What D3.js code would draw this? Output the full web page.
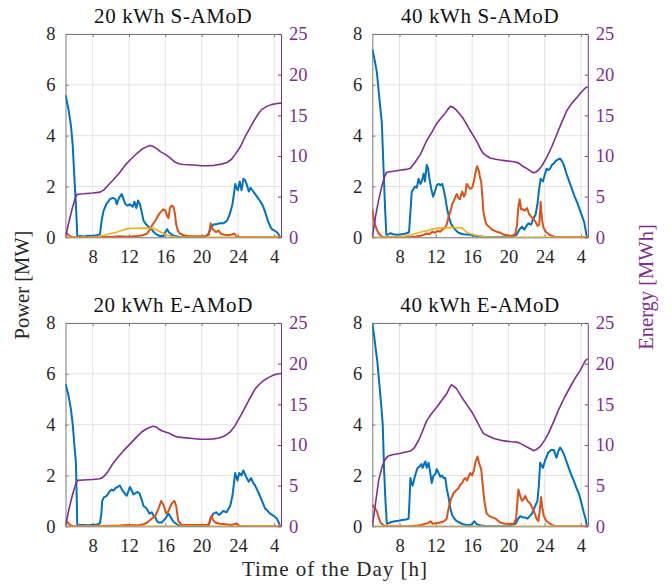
<!DOCTYPE html>
<html>
<head>
<meta charset="utf-8">
<script src="https://cdn.jsdelivr.net/npm/d3@7"></script>
<style>
  body { margin: 0; background: #fff; }
</style>
</head>
<body>
<svg id="chart" width="672" height="587"></svg>
<script>
// ---- data: time in hours (values past 24 are the next morning), power in MW, energy in MWh ----
const titles = ["20 kWh S-AMoD", "40 kWh S-AMoD", "20 kWh E-AMoD", "40 kWh E-AMoD"];
const timeDomain = [5, 28.75];
const xTicks = [8, 12, 16, 20, 24, 28];
const xTickLabels = ["8", "12", "16", "20", "24", "4"];
const powerTicks = [0, 2, 4, 6, 8];
const energyTicks = [0, 5, 10, 15, 20, 25];

const blue20S = [[5,5.6],[5.3,5.1],[5.6,4.4],[5.8,3.6],[6.0,2.2],[6.2,0.9],[6.3,0.02],[6.6,0.05],[7,0.03],[7.5,0.06],[8,0.05],[8.5,0.08],[8.8,0.12],[9.0,0.7],[9.2,1.05],[9.5,1.3],[9.9,1.5],[10.2,1.55],[10.5,1.5],[10.65,1.3],[10.9,1.55],[11.2,1.7],[11.4,1.5],[11.6,1.3],[11.8,1.25],[12.1,1.3],[12.4,1.2],[12.6,1.4],[12.8,1.15],[13.0,1.45],[13.2,1.3],[13.4,1.0],[13.6,0.65],[13.9,0.5],[14.2,0.4],[14.5,0.3],[14.8,0.18],[15.1,0.1],[15.4,0.05],[15.8,0.05],[16.0,0.2],[16.2,0.32],[16.4,0.2],[16.7,0.1],[17.0,0.05],[17.6,0.01],[18,0],[19.8,0],[20.3,0.03],[20.7,0.1],[21.0,0.35],[21.3,0.5],[21.7,0.52],[22.0,0.55],[22.4,0.55],[22.8,0.65],[23.1,0.9],[23.4,1.3],[23.6,1.8],[23.7,2.1],[23.9,1.9],[24.0,1.85],[24.2,2.2],[24.4,1.85],[24.6,2.3],[24.8,2.25],[25.0,2.05],[25.2,1.8],[25.4,1.95],[25.6,1.85],[25.9,1.7],[26.2,1.55],[26.5,1.4],[26.8,1.2],[27.0,1.0],[27.3,0.65],[27.6,0.4],[27.8,0.3],[28.1,0.25],[28.3,0.2],[28.5,0.1],[28.65,0]];
const orange20S = [[5,0.2],[5.3,0.1],[5.6,0.03],[5.8,0],[8,0],[9,0.02],[10,0.01],[11,0.04],[12,0.02],[12.5,0.04],[13,0.05],[13.5,0.08],[14,0.15],[14.3,0.3],[14.6,0.5],[14.9,0.65],[15.2,0.85],[15.5,1.0],[15.8,1.1],[16.0,1.05],[16.2,0.85],[16.35,0.75],[16.5,1.15],[16.7,1.25],[16.9,1.2],[17.05,0.95],[17.2,0.5],[17.4,0.25],[17.6,0.15],[18,0.08],[18.5,0.05],[19.5,0.04],[20.5,0.05],[20.8,0.1],[21.0,0.55],[21.1,0.35],[21.3,0.3],[21.6,0.2],[21.85,0.27],[22.1,0.15],[22.5,0.1],[23,0.08],[23.4,0.12],[23.6,0.15],[23.8,0.05],[24.2,0],[28.75,0]];
const yellow20S = [[5,0],[8,0],[8.5,0.02],[9,0.06],[9.5,0.1],[10,0.15],[10.6,0.2],[11.2,0.27],[11.75,0.33],[12.3,0.35],[13,0.35],[13.6,0.36],[14.2,0.35],[14.7,0.35],[15.0,0.3],[15.4,0.22],[15.8,0.15],[16.2,0.08],[16.6,0.04],[17.2,0.01],[17.6,0],[28.75,0]];
const energy20S = [[5,0],[5.4,2.0],[5.8,3.8],[6.1,4.9],[6.3,5.3],[7,5.35],[8,5.45],[8.8,5.55],[9.2,5.8],[9.7,6.4],[10.3,7.1],[11,8.0],[11.6,8.9],[12.2,9.6],[12.85,10.3],[13.5,10.9],[14.0,11.15],[14.3,11.3],[14.6,11.2],[15.05,10.9],[15.5,10.5],[16.0,10.2],[16.5,9.8],[17.0,9.3],[17.5,9.05],[18.0,8.95],[19.1,8.9],[20.0,8.8],[20.6,8.8],[21.4,8.85],[22.2,9.0],[22.8,9.2],[23.3,9.6],[23.7,10.2],[24.25,11.1],[24.95,12.7],[25.7,14.2],[26.2,15.1],[26.6,15.7],[27.2,16.1],[27.8,16.35],[28.3,16.45],[28.75,16.5]];

const blue40S = [[5,7.4],[5.3,6.9],[5.5,6.5],[5.8,5.4],[6.05,4.5],[6.25,2.6],[6.4,1.2],[6.55,0.1],[6.8,0.12],[7.0,0.16],[7.3,0.12],[7.7,0.1],[8.2,0.12],[8.7,0.15],[9.05,0.2],[9.2,1.0],[9.35,1.8],[9.55,1.9],[9.7,2.0],[9.9,1.95],[10.1,2.3],[10.3,2.1],[10.45,2.2],[10.65,2.5],[10.8,2.2],[11.0,2.85],[11.15,2.7],[11.3,2.3],[11.5,1.9],[11.7,1.6],[11.9,1.8],[12.1,2.05],[12.3,2.1],[12.5,2.05],[12.7,2.1],[12.85,1.9],[13.05,1.55],[13.25,1.1],[13.45,0.8],[13.65,0.55],[13.9,0.4],[14.15,0.3],[14.5,0.18],[15.0,0.12],[15.8,0.1],[16.5,0.05],[17.2,0.02],[17.6,0],[20.2,0],[20.6,0.05],[20.9,0.1],[21.2,0.3],[21.5,0.42],[21.75,0.3],[22.0,0.45],[22.2,0.55],[22.5,0.5],[22.7,0.7],[23.0,0.9],[23.2,1.3],[23.35,1.8],[23.55,2.3],[23.8,2.2],[24.0,2.45],[24.2,2.7],[24.4,2.65],[24.6,2.7],[24.8,2.85],[25.0,2.9],[25.2,3.0],[25.4,3.05],[25.7,3.1],[25.9,3.0],[26.1,2.85],[26.4,2.5],[26.7,2.2],[27.0,1.9],[27.3,1.6],[27.55,1.4],[27.8,1.15],[28.1,0.85],[28.35,0.6],[28.5,0.3],[28.65,0]];
const orange40S = [[5,1.1],[5.15,0.75],[5.3,0.5],[5.5,0.3],[5.7,0.15],[6.0,0.05],[6.25,0],[9.2,0.01],[9.8,0.03],[10.3,0.06],[10.7,0.1],[11.0,0.15],[11.3,0.12],[11.6,0.22],[11.9,0.18],[12.2,0.25],[12.5,0.22],[12.7,0.3],[12.95,0.35],[13.2,0.5],[13.4,0.8],[13.6,1.0],[13.8,1.3],[14.0,1.45],[14.3,1.7],[14.5,1.55],[14.65,1.5],[14.9,1.8],[15.1,1.6],[15.25,1.7],[15.4,2.1],[15.6,2.0],[15.8,1.9],[16.0,1.95],[16.2,2.2],[16.35,2.5],[16.55,2.8],[16.75,2.6],[16.9,2.3],[17.0,2.2],[17.15,1.5],[17.25,1.0],[17.45,0.65],[17.6,0.5],[17.9,0.4],[18.2,0.3],[18.7,0.22],[19.1,0.18],[19.5,0.1],[19.9,0.08],[20.2,0.05],[20.5,0.08],[20.75,0.12],[20.95,0.5],[21.1,1.2],[21.25,1.5],[21.4,1.1],[21.6,1.1],[21.8,1.05],[22.05,1.15],[22.3,0.9],[22.55,0.8],[22.8,0.7],[23.0,0.6],[23.2,0.45],[23.4,0.5],[23.55,1.4],[23.7,0.7],[23.85,0.4],[24.05,0.25],[24.25,0.18],[24.6,0.08],[25.0,0.03],[25.35,0],[28.75,0]];
const yellow40S = [[5,0],[7.5,0],[8,0.02],[8.6,0.05],[9.2,0.1],[9.8,0.15],[10.3,0.2],[10.9,0.25],[11.4,0.3],[12.1,0.36],[12.8,0.37],[13.6,0.38],[14.3,0.38],[14.9,0.37],[15.15,0.28],[15.4,0.2],[15.8,0.14],[16.4,0.08],[17.0,0.04],[17.6,0.02],[18.7,0],[28.75,0]];
const energy40S = [[5,0],[5.35,2.5],[5.7,4.6],[6.1,6.5],[6.4,7.6],[6.6,8.0],[7.2,8.1],[8,8.25],[8.7,8.35],[9.2,8.5],[9.7,9.2],[10.3,10.2],[11.0,11.9],[11.6,13.0],[12.1,14.0],[12.6,14.7],[13.0,15.2],[13.3,15.7],[13.6,16.1],[13.9,16.0],[14.3,15.6],[14.9,14.8],[15.4,13.9],[15.8,13.1],[16.3,12.2],[16.7,11.4],[17.0,10.7],[17.25,10.3],[17.6,10.0],[18.0,9.75],[18.6,9.6],[19.1,9.5],[19.8,9.4],[20.6,9.3],[21.1,9.15],[21.5,8.8],[22.05,8.45],[22.5,8.1],[22.8,7.95],[23.0,8.0],[23.3,8.25],[23.7,8.8],[24.25,9.9],[24.8,11.2],[25.35,12.7],[25.9,14.2],[26.45,15.6],[27.0,16.5],[27.55,17.2],[28.0,17.8],[28.5,18.4],[28.75,18.5]];

const blue20E = [[5,5.6],[5.3,5.2],[5.6,4.6],[5.8,4.0],[6.0,3.1],[6.15,2.5],[6.25,0.9],[6.3,0.02],[6.6,0.05],[7,0.05],[7.5,0.04],[8,0.06],[8.5,0.07],[8.8,0.12],[8.95,0.5],[9.05,1.0],[9.25,1.15],[9.55,1.2],[9.8,1.35],[10.1,1.45],[10.3,1.4],[10.5,1.5],[10.75,1.55],[11.0,1.6],[11.15,1.5],[11.4,1.35],[11.75,1.2],[11.95,1.4],[12.1,1.55],[12.3,1.4],[12.5,1.25],[12.7,1.3],[12.9,1.35],[13.15,1.3],[13.35,1.1],[13.6,0.8],[13.9,0.72],[14.1,0.6],[14.25,0.5],[14.5,0.55],[14.7,0.42],[14.9,0.35],[15.1,0.2],[15.25,0.15],[15.6,0.15],[16.0,0.3],[16.35,0.5],[16.6,0.35],[16.9,0.18],[17.2,0.1],[17.45,0.04],[17.7,0],[20.6,0],[20.8,0.05],[21.0,0.3],[21.3,0.5],[21.6,0.55],[21.9,0.45],[22.1,0.5],[22.4,0.6],[22.75,0.55],[23.15,0.8],[23.4,1.2],[23.6,1.8],[23.7,2.1],[23.95,1.8],[24.15,2.1],[24.4,2.0],[24.6,2.2],[24.9,1.95],[25.2,1.75],[25.45,1.9],[25.7,1.7],[25.9,1.6],[26.3,1.3],[26.6,1.05],[27.0,0.7],[27.3,0.6],[27.55,0.5],[28.0,0.4],[28.3,0.3],[28.5,0.15],[28.65,0]];
const orange20E = [[5,0.2],[5.25,0.15],[5.5,0.05],[5.85,0],[9,0.01],[10,0.02],[11,0.03],[11.75,0.05],[12.5,0.04],[13.2,0.05],[13.6,0.08],[14.0,0.15],[14.5,0.3],[14.9,0.4],[15.25,0.7],[15.55,1.0],[15.8,0.85],[16.1,0.5],[16.35,0.6],[16.7,0.9],[17.0,1.0],[17.2,0.8],[17.35,0.4],[17.45,0.2],[17.8,0.06],[18.5,0.05],[19.5,0.05],[20.5,0.06],[20.8,0.08],[20.95,0.3],[21.1,0.42],[21.25,0.25],[21.5,0.15],[22.0,0.1],[22.6,0.08],[23.2,0.05],[23.6,0.08],[23.8,0.12],[24.0,0.04],[24.3,0],[28.75,0]];
const yellow20E = [[5,0],[28.75,0]];
const energy20E = [[5,0],[5.4,2.2],[5.8,4.0],[6.1,5.1],[6.3,5.65],[7,5.7],[8,5.75],[8.8,5.85],[9.2,6.1],[9.6,6.6],[10.1,7.5],[10.7,8.4],[11.4,9.3],[12.1,10.1],[12.85,11.0],[13.4,11.6],[13.95,12.0],[14.4,12.2],[14.7,12.3],[15.0,12.2],[15.25,12.0],[15.6,11.75],[16.0,11.6],[16.5,11.4],[17.0,11.1],[17.25,11.0],[18,10.9],[19,10.8],[19.85,10.7],[20.6,10.7],[21.3,10.75],[21.9,10.85],[22.4,11.05],[22.8,11.3],[23.15,11.6],[23.7,12.4],[24.4,13.8],[25.2,15.5],[25.9,16.9],[26.4,17.5],[26.8,17.9],[27.3,18.25],[27.75,18.5],[28.2,18.7],[28.75,18.8]];

const blue40E = [[5,8.0],[5.2,7.5],[5.4,6.9],[5.55,6.5],[5.8,5.5],[6.0,4.7],[6.15,4.0],[6.3,2.2],[6.45,1.0],[6.6,0.1],[6.8,0.12],[7.1,0.17],[7.5,0.2],[7.9,0.22],[8.3,0.25],[8.7,0.27],[9.0,0.3],[9.1,1.0],[9.2,1.9],[9.3,1.75],[9.45,1.6],[9.65,1.9],[9.8,2.1],[10.0,2.3],[10.2,2.35],[10.4,2.45],[10.55,2.3],[10.7,2.45],[10.85,2.55],[11.0,2.3],[11.2,2.5],[11.35,2.2],[11.55,1.7],[11.75,2.0],[11.95,2.05],[12.1,2.25],[12.3,2.1],[12.5,1.95],[12.7,2.0],[12.85,1.9],[13.05,1.9],[13.2,1.5],[13.4,1.15],[13.6,0.7],[13.8,0.45],[14.0,0.32],[14.3,0.2],[14.6,0.15],[15.0,0.08],[15.4,0.05],[15.9,0.06],[16.25,0.2],[16.5,0.08],[17.0,0.03],[17.6,0],[19.85,0],[20.3,0.05],[20.8,0.1],[21.0,0.25],[21.3,0.4],[21.6,0.35],[21.85,0.35],[22.1,0.3],[22.6,0.5],[22.95,0.8],[23.2,1.0],[23.35,1.6],[23.5,2.5],[23.65,2.4],[23.8,2.3],[24.05,2.6],[24.4,2.9],[24.7,3.0],[25.0,3.0],[25.15,2.85],[25.3,2.7],[25.5,2.95],[25.7,3.1],[25.9,3.0],[26.1,2.85],[26.35,2.6],[26.6,2.35],[26.9,2.05],[27.2,1.8],[27.5,1.5],[27.75,1.3],[28.1,0.85],[28.3,0.55],[28.5,0.3],[28.65,0]];
const orange40E = [[5,0.85],[5.2,0.75],[5.5,0.6],[5.7,0.35],[5.9,0.15],[6.25,0.03],[6.6,0],[9.2,0],[10,0.03],[10.4,0.05],[10.8,0.1],[11.1,0.12],[11.4,0.2],[11.65,0.1],[12.0,0.12],[12.5,0.15],[12.9,0.2],[13.2,0.3],[13.35,0.6],[13.5,0.85],[13.7,1.1],[13.95,1.3],[14.2,1.4],[14.5,1.5],[14.7,1.65],[14.9,1.7],[15.1,1.85],[15.25,1.9],[15.45,1.8],[15.6,1.95],[15.8,2.1],[16.0,2.0],[16.2,2.2],[16.35,2.5],[16.6,2.75],[16.8,2.45],[17.0,2.25],[17.15,1.7],[17.35,1.0],[17.6,0.5],[17.9,0.4],[18.2,0.35],[18.6,0.3],[19.1,0.15],[19.6,0.1],[20.1,0.1],[20.6,0.1],[20.85,0.3],[21.1,1.45],[21.3,1.2],[21.5,1.0],[21.65,1.05],[21.85,1.2],[22.1,1.0],[22.4,0.9],[22.8,0.6],[23.1,0.3],[23.3,0.2],[23.45,0.6],[23.6,1.15],[23.75,0.7],[23.9,0.4],[24.2,0.2],[24.6,0.1],[24.9,0.03],[25.2,0],[28.75,0]];
const yellow40E = [[5,0],[28.75,0]];
const energy40E = [[5,0],[5.35,2.8],[5.7,5.65],[6.1,7.4],[6.4,8.2],[6.7,8.6],[7.2,8.8],[8,8.95],[8.6,9.1],[9.2,9.25],[9.6,9.6],[10.1,10.55],[10.5,11.6],[11.0,13.0],[11.5,13.8],[12.1,14.65],[12.6,15.4],[13.2,16.3],[13.5,17.0],[13.7,17.4],[14.0,17.2],[14.3,16.9],[14.9,15.8],[15.6,14.65],[16.0,14.0],[16.5,13.0],[16.9,12.1],[17.25,11.4],[17.8,11.1],[18.4,10.8],[19.5,10.5],[20.3,10.4],[20.95,10.35],[21.3,10.2],[21.7,9.95],[22.3,9.6],[22.8,9.3],[23.1,9.45],[23.5,9.8],[24.0,10.6],[24.4,11.4],[25.0,12.9],[25.5,14.25],[26.2,15.9],[26.8,17.1],[27.4,18.3],[27.9,19.15],[28.2,19.8],[28.5,20.4],[28.75,20.6]];

// ---- layout and styles ----
const panelW = 215.5, panelH = 203.3;
const panelOrigins = [[65.5, 34], [372.3, 34], [65.5, 323], [372.3, 323]];
const FONT = "'Liberation Serif', 'DejaVu Serif', serif";
const C = { blue: "#0072BD", orange: "#D95319", yellow: "#EDB120", purple: "#7E2F8E", text: "#262626", axis: "#7a7a7a", grid: "#e4e4e4" };

const panels = [
  { title: titles[0], blue: blue20S, orange: orange20S, yellow: yellow20S, energy: energy20S },
  { title: titles[1], blue: blue40S, orange: orange40S, yellow: yellow40S, energy: energy40S },
  { title: titles[2], blue: blue20E, orange: orange20E, yellow: yellow20E, energy: energy20E },
  { title: titles[3], blue: blue40E, orange: orange40E, yellow: yellow40E, energy: energy40E }
];

const svg = d3.select("#chart").style("font-family", FONT);
svg.append("rect").attr("width", 672).attr("height", 587).attr("fill", "#fff");

const x = d3.scaleLinear().domain(timeDomain).range([0, panelW]);
const yP = d3.scaleLinear().domain([0, 8]).range([panelH, 0]);
const yE = d3.scaleLinear().domain([0, 25]).range([panelH, 0]);

svg.append("defs").append("clipPath").attr("id", "plotArea")
  .append("rect").attr("width", panelW).attr("height", panelH);

const powerLine = d3.line().x(d => x(d[0])).y(d => yP(d[1]));
const energyLine = d3.line().x(d => x(d[0])).y(d => yE(d[1]));

function styleTicks(sel, color) {
  sel.attr("font-family", null).attr("font-size", null);
  sel.selectAll(".tick text").attr("fill", color)
    .style("font-family", FONT).style("font-size", "18.5px");
}

panels.forEach((p, i) => {
  const [ox, oy] = panelOrigins[i];
  const g = svg.append("g").attr("transform", `translate(${ox},${oy})`);

  // grid
  g.append("g").selectAll("line").data(xTicks).join("line")
    .attr("x1", d => x(d)).attr("x2", d => x(d)).attr("y1", 0).attr("y2", panelH)
    .attr("stroke", C.grid).attr("stroke-width", 1);
  g.append("g").selectAll("line").data(powerTicks).join("line")
    .attr("y1", d => yP(d)).attr("y2", d => yP(d)).attr("x1", 0).attr("x2", panelW)
    .attr("stroke", C.grid).attr("stroke-width", 1);

  // axes
  const ax = g.append("g").attr("transform", `translate(0,${panelH})`)
    .call(d3.axisBottom(x).tickValues(xTicks).tickFormat((d, k) => xTickLabels[k])
      .tickSizeInner(-3).tickSizeOuter(0).tickPadding(13));
  const axTop = g.append("g")
    .call(d3.axisTop(x).tickValues(xTicks).tickFormat("").tickSizeInner(-3).tickSizeOuter(0));
  const ayL = g.append("g")
    .call(d3.axisLeft(yP).tickValues(powerTicks).tickSizeInner(-3).tickSizeOuter(0).tickPadding(10));
  const ayR = g.append("g").attr("transform", `translate(${panelW},0)`)
    .call(d3.axisRight(yE).tickValues(energyTicks).tickSizeInner(-3).tickSizeOuter(0).tickPadding(8));

  [ax, axTop, ayL].forEach(a => {
    a.select(".domain").attr("stroke", C.axis).attr("stroke-width", 1);
    a.selectAll(".tick line").attr("stroke", C.axis);
    styleTicks(a, C.text);
  });
  ayR.select(".domain").attr("stroke", C.purple).attr("stroke-width", 1);
  ayR.selectAll(".tick line").attr("stroke", C.purple);
  styleTicks(ayR, C.purple);

  // series
  const plot = g.append("g").attr("clip-path", "url(#plotArea)");
  plot.append("path").datum(p.blue).attr("d", powerLine)
    .attr("fill", "none").attr("stroke", C.blue).attr("stroke-width", 2).attr("stroke-linejoin", "round");
  plot.append("path").datum(p.orange).attr("d", powerLine)
    .attr("fill", "none").attr("stroke", C.orange).attr("stroke-width", 2).attr("stroke-linejoin", "round");
  plot.append("path").datum(p.yellow).attr("d", powerLine)
    .attr("fill", "none").attr("stroke", C.yellow).attr("stroke-width", 1.7).attr("stroke-linejoin", "round");
  plot.append("path").datum(p.energy).attr("d", energyLine)
    .attr("fill", "none").attr("stroke", C.purple).attr("stroke-width", 1.6).attr("stroke-linejoin", "round");

  // title
  g.append("text").attr("x", panelW / 2).attr("y", -11)
    .attr("text-anchor", "middle").attr("fill", "#111")
    .style("font-family", FONT).style("font-size", "21px").style("letter-spacing", "0.6px")
    .text(p.title);
});

// shared axis labels
svg.append("text").attr("transform", "translate(29,285) rotate(-90)")
  .attr("text-anchor", "middle").attr("fill", C.text)
  .style("font-family", FONT).style("font-size", "20.5px")
  .text("Power [MW]");
svg.append("text").attr("transform", "translate(653,287) rotate(-90)")
  .attr("text-anchor", "middle").attr("fill", C.purple)
  .style("font-family", FONT).style("font-size", "20.5px")
  .text("Energy [MWh]");
svg.append("text").attr("x", 335).attr("y", 576)
  .attr("text-anchor", "middle").attr("fill", C.text)
  .style("font-family", FONT).style("font-size", "21px").style("letter-spacing", "1px")
  .text("Time of the Day [h]");
</script>
</body>
</html>
